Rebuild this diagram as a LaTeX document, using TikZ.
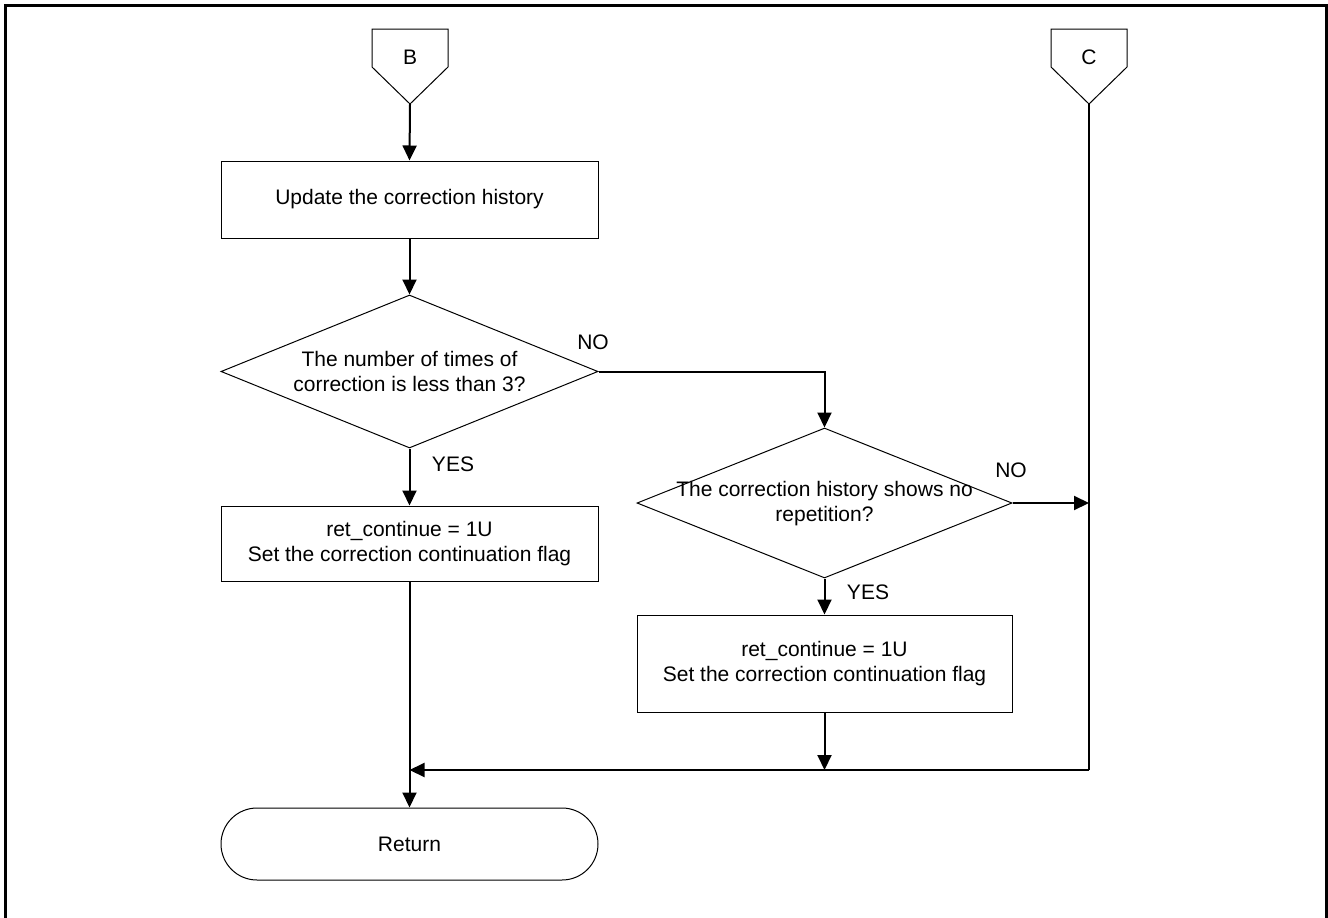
\documentclass[tikz,border=0pt]{standalone}
\usepackage{fontspec}
\setmainfont{Liberation Sans}
\usetikzlibrary{shapes.geometric,shapes.misc,arrows.meta}
\tikzset{
  txt/.style={font=\fontsize{21}{25}\selectfont, align=center, inner sep=0pt},
  procbox/.style={draw, line width=1pt, minimum width=377pt, inner sep=0pt, txt},
  decision/.style={draw, diamond, line width=1pt, inner sep=0pt},
  term/.style={draw, rounded rectangle, line width=1pt, minimum width=377pt, minimum height=72pt, inner sep=0pt, txt},
  offpage/.style={line width=1pt},
  flow/.style={line width=2pt, -{Triangle[length=15pt,width=14pt]}},
  plain/.style={line width=2pt},
}
\begin{document}
\begin{tikzpicture}[x=1pt,y=-1pt]
\useasboundingbox (0,0) rectangle (1328,918);
% outer frame
\draw[line width=3pt] (5.5,940) -- (5.5,5.5) -- (1326,5.5) -- (1326,940);

% off-page connector B
\draw[offpage] (372,29) -- (448,29) -- (448,67) -- (410,104) -- (372,67) -- cycle;
\node[txt] (B) at (410,57) {B};
\coordinate (Bp) at (410,104);
% off-page connector C
\draw[offpage] (1051,29) -- (1127,29) -- (1127,67) -- (1089,104) -- (1051,67) -- cycle;
\node[txt] (C) at (1089,57) {C};
\coordinate (Cp) at (1089,104);

% main column
\node[procbox, minimum height=77pt] (upd) at (409.5,199.5) {Update the correction history};
\node[decision, minimum width=377pt, minimum height=153pt] (d1) at (409.5,371.5) {};
\node[txt] (d1t) at (409.5,371) {The number of times of\\correction is less than 3?};
\node[procbox, minimum height=75pt] (set1) at (409.5,543.5) {ret\_continue = 1U\\Set the correction continuation flag};
\node[term] (ret) at (409.5,844) {Return};

% right column
\node[decision, minimum width=375pt, minimum height=150pt] (d2) at (824.5,503) {};
\node[txt] (d2t) at (824.5,504) {The correction history shows no\\repetition?};
\node[procbox, minimum width=375pt, minimum height=97pt] (set2) at (824.5,663.5) {ret\_continue = 1U\\Set the correction continuation flag};

% junction coordinates
\coordinate (j) at (1089,503);
\coordinate (m1) at (409.5,770);
\coordinate (m2) at (824.5,770);
\coordinate (m3) at (1089,770);

% connectors
\draw[flow] (Bp) -- (upd.north);
\draw[flow] (upd.south) -- (d1.north);
\draw[flow] (d1.east) -| (d2.north);
\draw[flow] (d1.south) -- (set1.north);
\draw[flow] (d2.east) -- (j);
\draw[flow] (d2.south) -- (set2.north);
\draw[flow] (set2.south) -- (m2);
\draw[plain] (Cp) -- (m3);
\draw[flow] (m3) -- (m1);
\draw[flow] (set1.south) -- (ret.north);

% labels
\node[txt] (no1) at (593,342) {NO};
\node[txt] (yes1) at (453,464) {YES};
\node[txt] (no2) at (1011,470) {NO};
\node[txt] (yes2) at (868,592) {YES};
\end{tikzpicture}
\end{document}
